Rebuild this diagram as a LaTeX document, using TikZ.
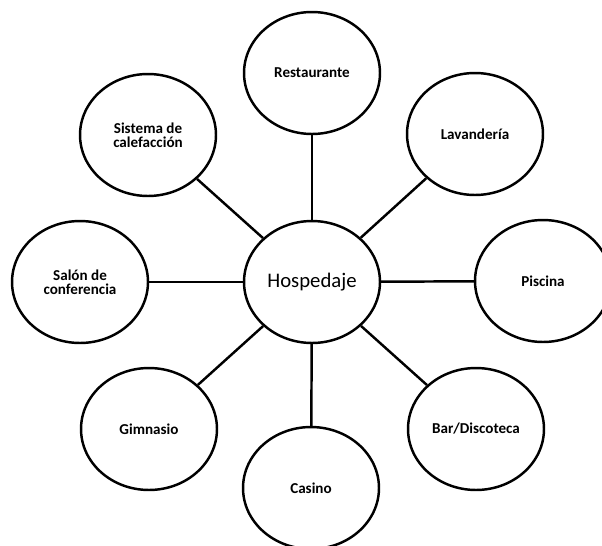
\documentclass[tikz,border=0pt]{standalone}
\usepackage{fontspec}
\setmainfont{Carlito}
\usetikzlibrary{shapes.geometric}

\tikzset{
  item/.style={draw, ellipse, line width=1.4pt, minimum width=2.72cm, minimum height=2.44cm,
    inner sep=0pt, align=center, font=\bfseries\fontsize{8.6}{8.2}\selectfont},
  hub/.style={item, font=\fontsize{11.8}{12}\selectfont},
  link/.style={line width=1.4pt}
}

\begin{document}
\begin{tikzpicture}[x=0.02cm, y=-0.02cm]
      \useasboundingbox (0,0) rectangle (602,545);

      \node[hub] (hospedaje) at (312,282) {Hospedaje};

      \node[item] (restaurante) at (312,73) {Restaurante};
      \node[item] (lavanderia) at (475,134) {Lavandería};
      \node[item] (piscina) at (543,281) {Piscina};
      \node[item] (bar) at (476,429) {Bar/Discoteca};
      \node[item] (casino) at (311,488) {Casino};
      \node[item] (gimnasio) at (149,429) {Gimnasio};
      \node[item] (salon) at (80,282) {Salón de\\conferencia};
      \node[item] (sistema) at (148,135) {Sistema de\\calefacción};

      \draw[link] (hospedaje) -- (restaurante);
      \draw[link] (hospedaje) -- (lavanderia);
      \draw[link] (hospedaje) -- (piscina);
      \draw[link] (hospedaje) -- (bar);
      \draw[link] (hospedaje) -- (casino);
      \draw[link] (hospedaje) -- (gimnasio);
      \draw[link] (hospedaje) -- (salon);
      \draw[link] (hospedaje) -- (sistema);
    \end{tikzpicture}
\end{document}
